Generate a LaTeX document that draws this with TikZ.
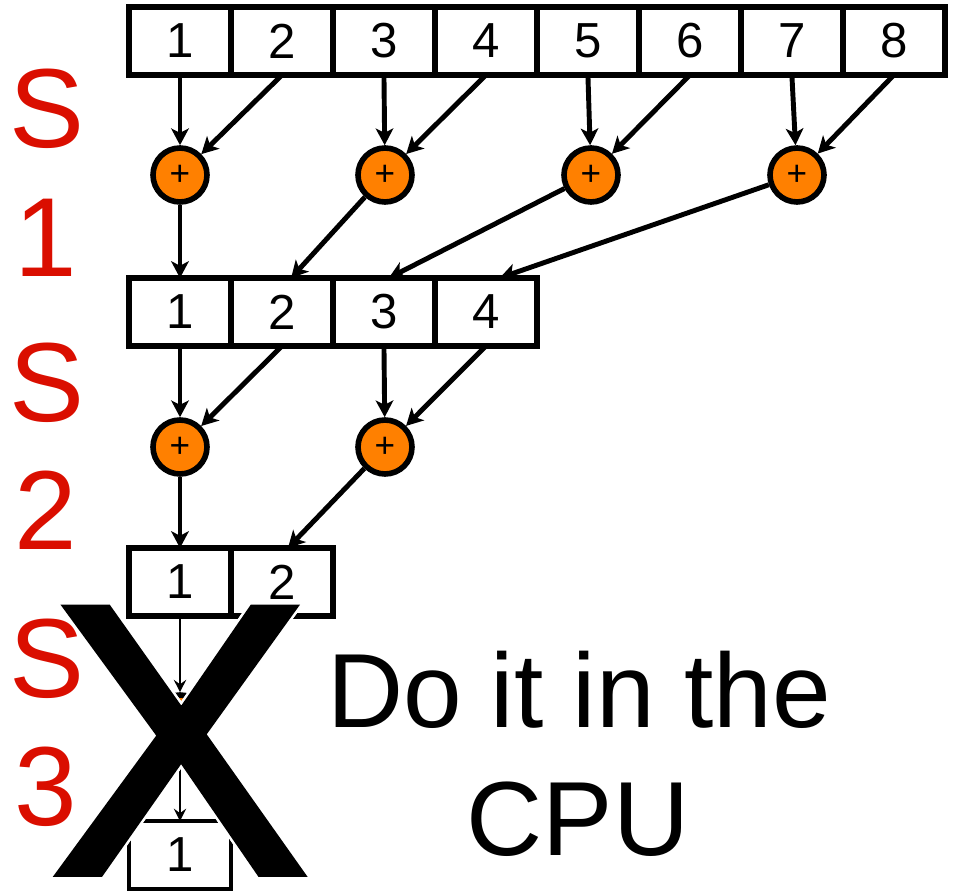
\documentclass[tikz,border=0pt]{standalone}
\usepackage{fontspec}
\setmainfont{Liberation Sans}
\newfontface\crossfont[FakeBold=2]{Liberation Sans}
\usepackage{contour}
\usetikzlibrary{arrows.meta}
\usetikzlibrary{positioning}

\definecolor{stagered}{RGB}{218,14,0}
\definecolor{addorange}{RGB}{255,128,0}
\contourlength{1.4pt}

\tikzset{
  cell/.style={draw, rectangle, line width=3.2pt, minimum width=2.04cm, minimum height=1.36cm,
    inner sep=0pt, outer sep=0pt, font=\fontsize{28}{30}\selectfont},
  adder/.style={draw, circle, line width=3.2pt, fill=addorange, minimum size=1.08cm,
    inner sep=0pt, font=\fontsize{20}{20}\selectfont},
  flow/.style={-{Stealth[length=9.5pt, width=10pt, inset=2.5pt]}, line width=2.8pt},
  thinflow/.style={-{Stealth[length=7pt, width=7pt, inset=2.5pt]}, line width=1.3pt},
  stage/.style={text=stagered, font=\fontsize{64}{70}\selectfont, anchor=base, inner sep=0pt},
}

\begin{document}
\begin{tikzpicture}[x=0.02cm, y=-0.02cm]
\useasboundingbox (0,0) rectangle (957,891);

% stage labels
\node[stage] (s1) at (47,148) {S};
\node[stage] (n1) at (46,277) {1};
\node[stage] (s2) at (47,422) {S};
\node[stage] (n2) at (46,550) {2};
\node[stage] (s3) at (47,697) {S};
\node[stage] (n3) at (46,825) {3};

% first row, 8 values
\node[cell] (a1) at (180,41) {1};
\node[cell, right=0pt of a1] (a2) {2};
\node[cell, right=0pt of a2] (a3) {3};
\node[cell, right=0pt of a3] (a4) {4};
\node[cell, right=0pt of a4] (a5) {5};
\node[cell, right=0pt of a5] (a6) {6};
\node[cell, right=0pt of a6] (a7) {7};
\node[cell, right=0pt of a7] (a8) {8};

\node[adder] (p1) at (180,175) {+};
\node[adder] (p2) at (385,175) {+};
\node[adder] (p3) at (591,175) {+};
\node[adder] (p4) at (797,175) {+};

\draw[flow] (a1.south) -- (p1);
\draw[flow] (a2.south) -- (p1);
\draw[flow] (a3.south) -- (p2);
\draw[flow] (a4.south) -- (p2);
\draw[flow] (a5.south) -- (p3);
\draw[flow] (a6.south) -- (p3);
\draw[flow] (a7.south) -- (p4);
\draw[flow] (a8.south) -- (p4);

% second row, 4 values
\node[cell] (b1) at (180,312) {1};
\node[cell, right=0pt of b1] (b2) {2};
\node[cell, right=0pt of b2] (b3) {3};
\node[cell, right=0pt of b3] (b4) {4};

\draw[flow] (p1) -- (b1.north);
\draw[flow] (p2) -- (b2.75);
\draw[flow] (p3) -- (b3.82);
\draw[flow] (p4) -- (b4.68);

\node[adder] (q1) at (180,447) {+};
\node[adder] (q2) at (385,447) {+};

\draw[flow] (b1.south) -- (q1);
\draw[flow] (b2.south) -- (q1);
\draw[flow] (b3.south) -- (q2);
\draw[flow] (b4.south) -- (q2);

% third row, 2 values
\node[cell] (c1) at (180,582) {1};
\node[cell, right=0pt of c1] (c2) {2};

\draw[flow] (q1) -- (c1.north);
\draw[flow] (q2) -- (c2.80);

\node[adder] (r1) at (180,722) {+};
\draw[thinflow] (c1.south) -- (r1);
\draw[thinflow] (c2.south) -- (r1);

% last value
\node[cell, line width=2.2pt] (d1) at (180,855) {1};
\draw[thinflow] (r1) -- (d1.north);

% crossed out
\node[inner sep=0pt, font=\crossfont\fontsize{219}{219}\selectfont] (cross) at (180,742) {\contour{white}{X}};

\node[anchor=base, inner sep=0pt, font=\fontsize{60}{70}\selectfont] (note1) at (579,727) {Do it in the};
\node[anchor=base, inner sep=0pt, font=\fontsize{60}{70}\selectfont] (note2) at (578,855) {CPU};

\end{tikzpicture}
\end{document}
